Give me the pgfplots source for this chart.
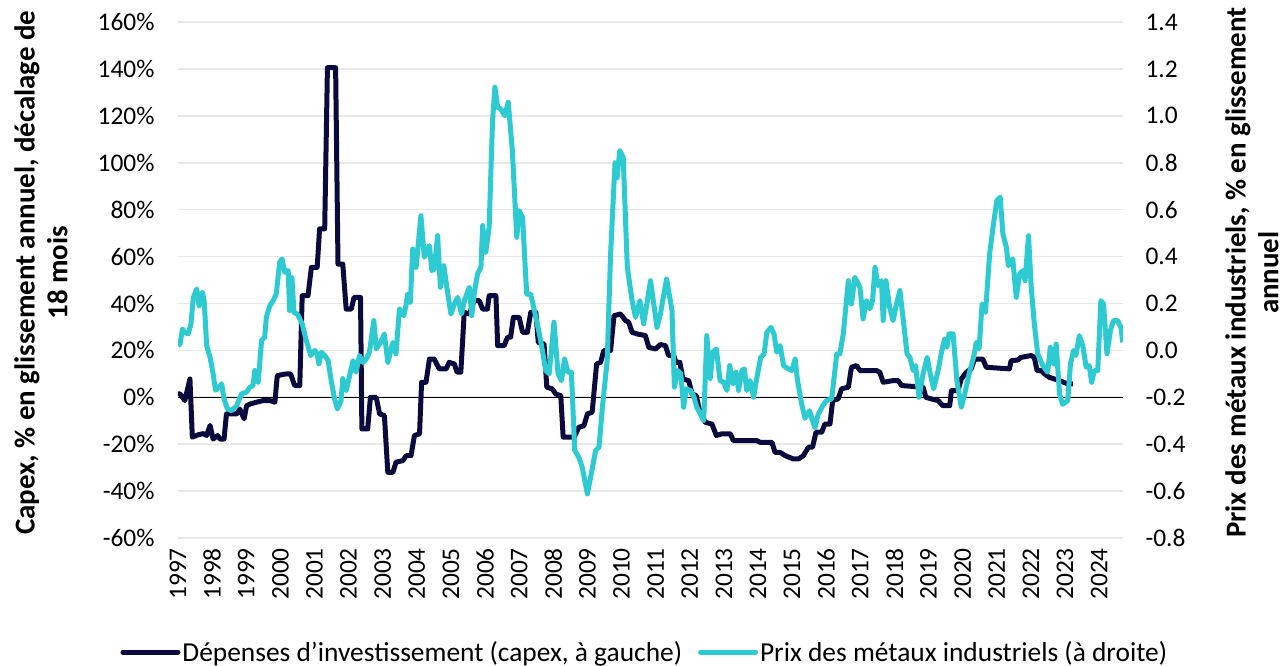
\documentclass[border=0pt]{standalone}
\usepackage{fontspec}
\setmainfont{Carlito}
\usepackage{pgfplots}
\pgfplotsset{compat=1.18}
\definecolor{navy}{HTML}{0B0A3D}
\definecolor{cyanm}{HTML}{2ECAD2}
\definecolor{gridgray}{HTML}{E8E8E8}
\begin{document}
\begin{tikzpicture}
\useasboundingbox (-178bp,-128bp) rectangle (1107bp,538bp);
\pgfplotsset{
  base/.style={width=945bp,height=516bp,scale only axis,
    xmin=1997,xmax=2024.7,
    scaled ticks=false,
    tick style={draw=none}, major tick length=0pt,
    axis line style={draw=none},
    ticklabel style={font=\fontsize{25.5}{30}\selectfont},
  }
}
\begin{axis}[base, at={(0,0)}, anchor=south west,
  ymin=-60,ymax=160,
  ytick={-60,-40,-20,0,20,40,60,80,100,120,140,160},
  yticklabels={-60\%,-40\%,-20\%,0\%,20\%,40\%,60\%,80\%,100\%,120\%,140\%,160\%},
  yticklabel style={anchor=east, xshift=-20bp},
  xtick={1997,1998,1999,2000,2001,2002,2003,2004,2005,2006,2007,2008,2009,2010,2011,2012,2013,2014,2015,2016,2017,2018,2019,2020,2021,2022,2023,2024},
  xticklabels={1997,1998,1999,2000,2001,2002,2003,2004,2005,2006,2007,2008,2009,2010,2011,2012,2013,2014,2015,2016,2017,2018,2019,2020,2021,2022,2023,2024},
  xticklabel style={yshift=-10bp, rotate=90, anchor=east, inner sep=0pt},
  ymajorgrids, major grid style={gridgray, line width=1.6bp},
  extra y ticks={0}, extra y tick labels={},
  extra y tick style={grid=major, major grid style={black, line width=1.3bp}},
  ylabel={Capex, \% en glissement annuel, décalage de\\18 mois},
  ylabel style={at={(rel axis cs:-0.145,0.514)}, anchor=center, align=center,
    font=\bfseries\fontsize{29}{33}\selectfont},
]
\addplot[navy, line width=5bp, line join=round] coordinates {
(1997.00,1.4)(1997.06,1.4)(1997.20,-1.4)(1997.35,7.8)(1997.42,-17)(1997.59,-16)
(1997.74,-15.5)(1997.84,-16.3)(1997.94,-12)(1998.03,-17.8)(1998.16,-16.3)(1998.23,-17.8)
(1998.35,-17.8)(1998.42,-7.1)(1998.72,-7.1)(1998.81,-5)(1998.94,-9.2)(1999.01,-3.6)
(1999.13,-2.8)(1999.30,-2.1)(1999.50,-1.4)(1999.69,-1.4)(1999.84,-2.1)(1999.91,9.2)
(2000.13,9.9)(2000.30,10)(2000.42,5)(2000.57,5)(2000.64,43.3)(2000.81,43.3)
(2000.91,55.4)(2001.08,55.4)(2001.15,71.8)(2001.30,71.8)(2001.38,140.5)(2001.62,140.5)
(2001.69,56.8)(2001.83,56.8)(2001.93,37.6)(2002.08,37.6)(2002.16,42.6)(2002.35,42.6)
(2002.39,-13.5)(2002.56,-13.5)(2002.64,0)(2002.81,0)(2002.91,-7.1)(2003.05,-7.8)
(2003.15,-32)(2003.30,-32)(2003.39,-27.7)(2003.59,-27)(2003.69,-24.9)(2003.83,-24.9)
(2003.93,-16.3)(2004.08,-15.6)(2004.14,6.4)(2004.27,6.4)(2004.37,16.3)(2004.51,16.3)
(2004.66,12.1)(2004.86,12.1)(2004.95,14.9)(2005.10,14.2)(2005.18,10.7)(2005.29,10.7)
(2005.39,36.2)(2005.54,35.5)(2005.68,41.2)(2005.83,41.2)(2005.93,37.6)(2006.07,37.6)
(2006.12,43.3)(2006.32,43.3)(2006.37,22)(2006.56,22)(2006.66,25.6)(2006.75,25.6)
(2006.83,34.1)(2007.00,34.1)(2007.10,27.7)(2007.24,27.7)(2007.34,36.2)(2007.49,36.2)
(2007.56,23.4)(2007.73,22.7)(2007.81,4.3)(2007.97,3.6)(2008.07,1.4)(2008.22,0.7)
(2008.29,-17)(2008.61,-17)(2008.75,-12.8)(2008.90,-12.1)(2009.00,-7.1)(2009.14,-6.4)
(2009.27,14.2)(2009.39,14.9)(2009.48,19.9)(2009.68,19.9)(2009.78,34.8)(2009.97,35.5)
(2010.12,32.7)(2010.21,32)(2010.31,27.7)(2010.46,27)(2010.70,26.3)(2010.80,21.3)
(2011.00,20.6)(2011.14,22.5)(2011.29,22)(2011.38,17.8)(2011.53,17.8)(2011.60,14.9)
(2011.71,14.9)(2011.80,7.8)(2011.97,7.1)(2012.07,1.4)(2012.19,0.7)(2012.29,-5.7)
(2012.46,-10.7)(2012.65,-11.4)(2012.78,-16.3)(2012.94,-15.6)(2013.19,-15.6)(2013.28,-18.5)
(2013.97,-18.5)(2014.06,-19.2)(2014.41,-19.2)(2014.50,-23.5)(2014.65,-23.5)(2014.80,-24.9)
(2015.04,-26.3)(2015.19,-26.3)(2015.33,-24.9)(2015.48,-21.3)(2015.60,-21.3)(2015.70,-14.9)
(2015.87,-14.9)(2015.96,-11.4)(2016.11,-11.4)(2016.19,-1.4)(2016.35,-0.7)(2016.45,3.6)
(2016.65,4.3)(2016.74,12.8)(2016.89,13.5)(2016.99,11.4)(2017.47,11.4)(2017.57,10.7)
(2017.67,6.4)(2017.96,7.1)(2018.11,7.1)(2018.21,5)(2018.84,4.3)(2018.92,0)
(2019.08,-0.7)(2019.28,-1.4)(2019.42,-3.6)(2019.62,-3.6)(2019.67,2.8)(2019.86,2.8)
(2019.96,7.8)(2020.11,10.7)(2020.25,12.1)(2020.35,16.3)(2020.59,16.3)(2020.69,12.8)
(2021.37,12.1)(2021.42,15.6)(2021.62,15.9)(2021.71,17)(2022.01,17.8)(2022.10,17)
(2022.18,11.4)(2022.30,11.4)(2022.40,10)(2022.54,8.5)(2022.69,7.8)(2022.84,7.1)
(2023.08,5.7)(2023.23,5.7)
};
\end{axis}
\begin{axis}[base, at={(0,0)}, anchor=south west,
  ymin=-0.8,ymax=1.4,
  ytick={-0.8,-0.6,-0.4,-0.2,0,0.2,0.4,0.6,0.8,1.0,1.2,1.4},
  yticklabels={-0.8,-0.6,-0.4,-0.2,0.0,0.2,0.4,0.6,0.8,1.0,1.2,1.4},
  yticklabel style={anchor=west, xshift=19bp},
  axis y line*=right, axis x line=none,
  ylabel={Prix des métaux industriels, \% en glissement\\annuel},
  ylabel style={at={(rel axis cs:1.1365,0.514)}, anchor=center, align=center,
    font=\bfseries\fontsize{29}{33}\selectfont},
  legend style={at={(0.494,-0.221)}, anchor=center, draw=none, fill=none,
    legend columns=2, font=\fontsize{27.5}{32}\selectfont,
    /tikz/every even column/.append style={column sep=14bp}},
  legend image code/.code={\draw[#1, line cap=round] (0bp,0bp) -- (55bp,0bp);},
]
\addlegendimage{navy, line width=5bp}
\addlegendentry{Dépenses d’investissement (capex, à gauche)}
\addplot[cyanm, line width=5bp, line join=round] coordinates {
(1997.00,0.02)(1997.06,0.027)(1997.13,0.091)(1997.20,0.077)(1997.30,0.070)(1997.38,0.113)
(1997.45,0.226)(1997.55,0.262)(1997.62,0.19)(1997.72,0.248)(1997.77,0.205)(1997.84,0.02)
(1997.94,-0.03)(1998.03,-0.10)(1998.10,-0.17)(1998.20,-0.157)(1998.28,-0.143)(1998.35,-0.207)
(1998.45,-0.25)(1998.57,-0.257)(1998.72,-0.236)(1998.86,-0.186)(1999.01,-0.178)(1999.11,-0.157)
(1999.20,-0.150)(1999.25,-0.086)(1999.35,-0.136)(1999.45,0.042)(1999.54,0.056)(1999.59,0.141)
(1999.69,0.19)(1999.79,0.212)(1999.88,0.24)(1999.98,0.375)(2000.05,0.39)(2000.13,0.333)
(2000.23,0.340)(2000.27,0.17)(2000.34,0.31)(2000.40,0.16)(2000.50,0.155)(2000.64,0.113)
(2000.76,0.042)(2000.89,-0.022)(2001.01,0.0)(2001.08,-0.015)(2001.13,-0.058)(2001.20,-0.008)
(2001.30,-0.022)(2001.40,-0.044)(2001.49,-0.129)(2001.59,-0.207)(2001.67,-0.25)(2001.78,-0.214)
(2001.83,-0.12)(2001.93,-0.172)(2002.03,-0.108)(2002.13,-0.044)(2002.22,-0.093)(2002.32,-0.022)
(2002.42,-0.051)(2002.52,-0.037)(2002.61,-0.008)(2002.74,0.127)(2002.81,0.006)(2002.94,0.034)
(2003.05,0.07)(2003.15,-0.051)(2003.30,0.034)(2003.39,-0.015)(2003.49,0.177)(2003.62,0.148)
(2003.69,0.198)(2003.73,0.24)(2003.81,0.205)(2003.88,0.432)(2003.98,0.354)(2004.12,0.574)
(2004.22,0.397)(2004.37,0.447)(2004.44,0.34)(2004.51,0.347)(2004.61,0.489)(2004.69,0.269)
(2004.79,0.361)(2004.88,0.269)(2005.00,0.155)(2005.10,0.198)(2005.20,0.226)(2005.31,0.155)
(2005.41,0.219)(2005.54,0.269)(2005.61,0.148)(2005.68,0.24)(2005.78,0.326)(2005.88,0.354)
(2005.93,0.532)(2006.02,0.418)(2006.12,0.525)(2006.22,0.98)(2006.29,1.122)(2006.37,1.036)
(2006.46,1.029)(2006.58,1.00)(2006.68,1.058)(2006.80,0.852)(2006.93,0.482)(2007.00,0.596)
(2007.10,0.567)(2007.22,0.24)(2007.34,0.24)(2007.49,0.141)(2007.63,0.042)(2007.78,-0.086)
(2007.88,-0.1)(2008.02,0.12)(2008.14,-0.10)(2008.24,-0.129)(2008.33,-0.037)(2008.43,-0.093)
(2008.53,-0.093)(2008.63,-0.427)(2008.75,-0.456)(2008.85,-0.50)(2009.00,-0.612)(2009.14,-0.506)
(2009.24,-0.427)(2009.34,-0.413)(2009.44,-0.243)(2009.58,-0.044)(2009.68,0.411)(2009.81,0.80)
(2009.87,0.736)(2009.95,0.852)(2010.05,0.823)(2010.17,0.354)(2010.31,0.212)(2010.41,0.141)
(2010.54,0.212)(2010.65,0.113)(2010.85,0.297)(2011.04,0.098)(2011.14,0.155)(2011.32,0.304)
(2011.48,0.17)(2011.55,-0.157)(2011.65,-0.086)(2011.74,-0.10)(2011.82,-0.243)(2011.90,-0.164)
(2012.02,-0.171)(2012.11,-0.193)(2012.21,-0.243)(2012.31,-0.271)(2012.41,-0.30)(2012.50,0.063)
(2012.60,-0.12)(2012.68,-0.007)(2012.78,0.006)(2012.89,-0.129)(2012.99,-0.136)(2013.09,-0.171)
(2013.17,-0.065)(2013.27,-0.143)(2013.36,-0.093)(2013.43,-0.171)(2013.53,-0.086)(2013.60,-0.079)
(2013.67,-0.171)(2013.77,-0.129)(2013.87,-0.20)(2013.97,-0.115)(2014.08,-0.03)(2014.18,-0.015)
(2014.26,0.077)(2014.38,0.098)(2014.47,0.07)(2014.55,-0.008)(2014.65,0.020)(2014.75,-0.065)
(2014.89,-0.079)(2014.99,-0.086)(2015.09,-0.037)(2015.16,-0.129)(2015.28,-0.228)(2015.38,-0.29)
(2015.51,-0.257)(2015.60,-0.30)(2015.67,-0.33)(2015.77,-0.271)(2015.90,-0.236)(2016.01,-0.214)
(2016.16,-0.207)(2016.31,-0.015)(2016.40,-0.015)(2016.50,0.07)(2016.65,0.297)(2016.74,0.198)
(2016.84,0.311)(2016.99,0.269)(2017.08,0.134)(2017.18,0.212)(2017.28,0.177)(2017.36,0.212)
(2017.43,0.354)(2017.52,0.276)(2017.62,0.297)(2017.67,0.127)(2017.75,0.297)(2017.86,0.184)
(2017.96,0.127)(2018.06,0.198)(2018.16,0.255)(2018.25,0.141)(2018.37,-0.015)(2018.45,-0.029)
(2018.55,-0.086)(2018.62,-0.065)(2018.72,-0.20)(2018.84,-0.100)(2018.96,-0.03)(2019.05,-0.100)
(2019.15,-0.164)(2019.28,-0.086)(2019.38,-0.008)(2019.47,0.049)(2019.54,0.013)(2019.60,0.07)
(2019.72,0.07)(2019.83,-0.129)(2019.96,-0.243)(2020.06,-0.186)(2020.20,-0.093)(2020.32,-0.029)
(2020.40,0.034)(2020.48,0.006)(2020.57,0.198)(2020.67,0.162)(2020.79,0.411)(2020.89,0.525)
(2021.00,0.638)(2021.10,0.653)(2021.18,0.496)(2021.28,0.44)(2021.34,0.361)(2021.47,0.39)
(2021.57,0.226)(2021.67,0.326)(2021.76,0.34)(2021.83,0.297)(2021.93,0.489)(2022.01,0.269)
(2022.10,0.113)(2022.20,-0.015)(2022.35,-0.065)(2022.49,-0.093)(2022.57,0.013)(2022.67,-0.058)
(2022.74,0.027)(2022.84,-0.186)(2022.93,-0.23)(2023.08,-0.214)(2023.16,-0.058)(2023.25,0.0)
(2023.32,-0.022)(2023.42,0.063)(2023.52,0.020)(2023.62,-0.072)(2023.71,-0.065)(2023.78,-0.136)
(2023.86,-0.086)(2023.96,-0.086)(2024.05,0.212)(2024.13,0.198)(2024.23,-0.015)(2024.33,0.084)
(2024.42,0.127)(2024.54,0.127)(2024.64,0.098)(2024.69,0.034)
};
\addlegendentry{Prix des métaux industriels (à droite)}
\end{axis}
\end{tikzpicture}
\end{document}
